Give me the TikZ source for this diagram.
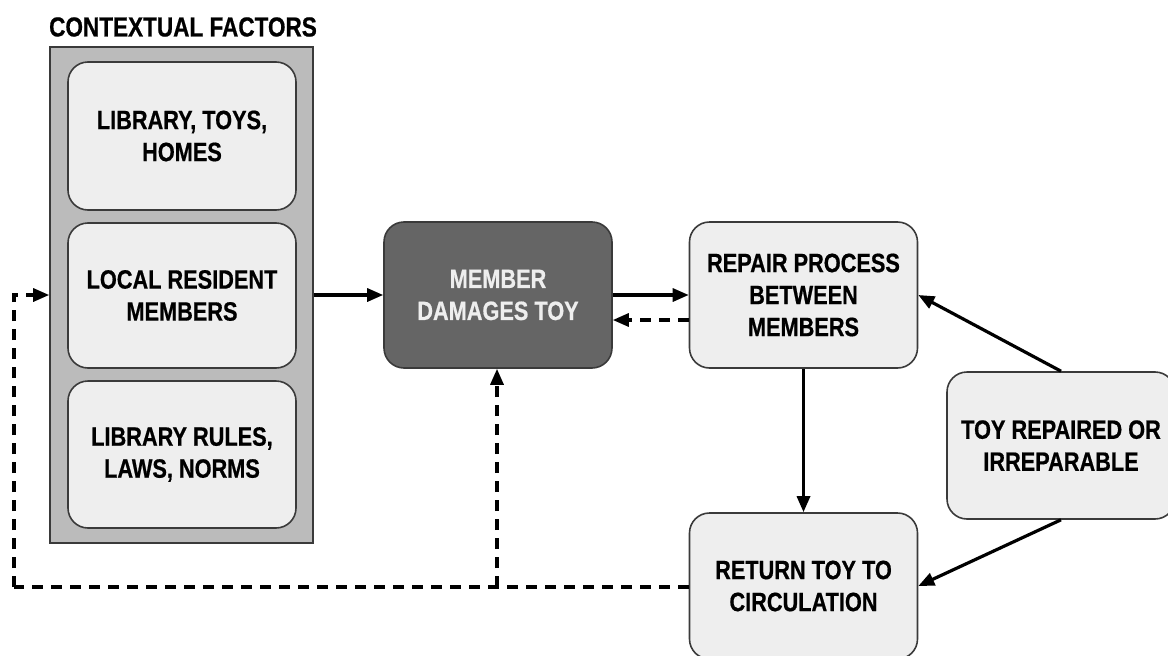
\documentclass[tikz,border=0pt]{standalone}
\usepackage{fontspec}
\setmainfont[FakeStretch=0.82,BoldFeatures={FakeBold=0.6}]{Liberation Sans}
\usetikzlibrary{arrows.meta}
\definecolor{outerfill}{HTML}{BBBBBB}
\definecolor{innerfill}{HTML}{EEEEEE}
\definecolor{darkfill}{HTML}{656565}
\definecolor{edgecol}{HTML}{3A3A3A}
\tikzset{
  lbl/.style={font=\fontsize{26.5}{32}\selectfont\bfseries, align=center},
  box/.style={lbl, draw=edgecol, line width=1.6pt, fill=innerfill, rounded corners=20pt, minimum width=228pt, minimum height=146pt, inner sep=0pt},
  darkbox/.style={box, fill=darkfill, text=innerfill},
  outerbox/.style={draw=edgecol, line width=1.6pt, fill=outerfill, minimum width=263pt, minimum height=496pt, inner sep=0pt},
  conn/.style={line width=3.2pt, -{Triangle[length=16pt,width=13pt]}},
  dconn/.style={conn, dash pattern=on 11pt off 8pt},
  dline/.style={line width=3.2pt, dash pattern=on 11pt off 8pt},
}
\begin{document}
\begin{tikzpicture}[x=1pt,y=-1pt]
\useasboundingbox (0,0) rectangle (1168,656);
\node[lbl, font=\fontsize{27.5}{32}\selectfont\bfseries] (title) at (183,27) {CONTEXTUAL FACTORS};
\node[outerbox] (outer) at (181.5,295) {};
\node[box, minimum height=148pt] (lib) at (182,136) {LIBRARY, TOYS,\\HOMES};
\node[box, minimum height=145pt] (res) at (182,295.5) {LOCAL RESIDENT\\MEMBERS};
\node[box, minimum height=147pt] (rules) at (182,454.5) {LIBRARY RULES,\\LAWS, NORMS};
\node[darkbox] (dmg) at (498,295) {MEMBER\\DAMAGES TOY};
\node[box] (rep) at (803.5,295) {REPAIR PROCESS\\BETWEEN\\MEMBERS};
\node[box] (ret) at (803.5,586) {RETURN TOY TO\\CIRCULATION};
\node[box, minimum height=147pt] (tr) at (1061,445.5) {TOY REPAIRED OR\\IRREPARABLE};
\coordinate (cl) at (14,587);
\coordinate (cb) at (497,587);
% solid connectors
\draw[conn] (outer.east |- dmg.west) -- (dmg.west);
\draw[conn] (dmg.east) -- (rep.west);
\draw[conn] (rep.south) -- (ret.north);
\draw[conn] (tr.north) -- (rep.east);
\draw[conn] (tr.south) -- (ret.east);
% dashed connectors
\draw[dconn] ([yshift=-25pt]rep.west) -- ([yshift=-25pt]dmg.east);
\draw[dline] (ret.west |- cl) -- (cl);
\draw[dconn] (cl) -- (cl |- outer.west) -- (outer.west);
\draw[dconn] (cb) -- (cb |- dmg.south);
\end{tikzpicture}
\end{document}
